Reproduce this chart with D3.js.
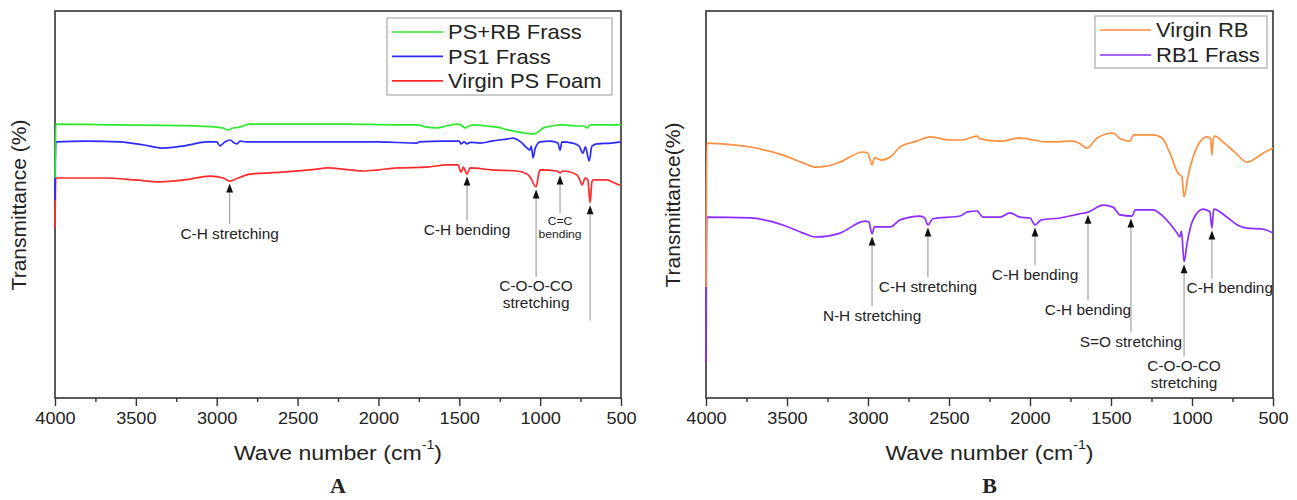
<!DOCTYPE html>
<html>
<head>
<meta charset="utf-8">
<script src="https://cdn.jsdelivr.net/npm/d3@7"></script>
<style>
body{margin:0;background:#fff}
svg{display:block}
text{font-family:"Liberation Sans",Arial,sans-serif;fill:#222}
</style>
</head>
<body>
<div id="chart"></div>
<script>
// x axis (wave number, cm-1)
const xDomain = [4000, 500];
const majorTicks = [4000, 3500, 3000, 2500, 2000, 1500, 1000, 500];
const minorTicks = [3750, 3250, 2750, 2250, 1750, 1250, 750];

// panel A spectra  [wave number, transmittance]
const psrbFrass = [[4000,56.7],[3995,70.6],[3600,70.4],[3200,70.2],[3000,69.8],[2960,69.6],[2930,69.1],[2900,69.6],
  [2860,69.8],[2800,70.6],[2500,70.6],[2200,70.6],[1900,70.4],[1760,70.4],[1700,69.8],[1640,69.6],[1580,70.1],
  [1514,70.6],[1490,70.4],[1464,69.6],[1440,70.1],[1400,70.4],[1330,70.1],[1266,69.8],[1200,69.1],[1143,68.6],
  [1080,68.2],[1044,68.0],[1010,68.6],[982,69.6],[930,70.1],[858,70.4],[770,70.1],[730,70.1],[710,69.6],[690,70.4],
  [600,70.4],[500,70.4]];
const ps1Frass = [[4000,51.0],[3995,66.0],[3800,66.2],[3600,66.0],[3450,65.2],[3332,64.4],[3200,65.0],[3060,66.0],
  [3000,66.0],[2980,65.0],[2950,66.0],[2918,66.5],[2890,65.7],[2875,65.5],[2855,66.2],[2820,66.0],[2500,66.0],
  [2000,66.0],[1760,65.7],[1750,66.0],[1600,66.2],[1500,66.2],[1490,65.5],[1470,66.0],[1452,65.5],[1430,65.9],
  [1370,65.7],[1300,66.2],[1200,66.8],[1168,67.0],[1120,66.0],[1080,64.4],[1063,63.9],[1055,64.9],[1044,61.9],
  [1030,64.4],[1000,66.0],[940,66.2],[890,65.7],[877,63.9],[865,66.0],[800,65.7],[760,65.0],[735,63.1],[720,64.7],
  [697,61.1],[680,64.9],[648,65.5],[560,65.7],[500,66.0]];
const virginPS = [[4000,44.1],[3995,56.7],[3700,56.7],[3500,56.2],[3350,55.7],[3200,56.2],[3040,57.2],[2960,56.7],
  [2918,55.9],[2880,56.5],[2794,57.7],[2600,58.2],[2380,59.0],[2318,59.3],[2176,58.8],[2095,58.5],[2000,58.8],
  [1885,59.3],[1700,59.5],[1576,60.1],[1508,60.1],[1489,58.2],[1475,59.5],[1452,57.7],[1434,59.3],[1300,58.8],
  [1143,58.5],[1080,57.7],[1063,57.0],[1025,54.4],[1010,57.5],[1000,58.8],[895,58.5],[877,58.0],[860,58.5],
  [772,57.5],[755,56.2],[740,54.9],[722,56.7],[705,56.2],[691,50.3],[680,55.7],[673,56.2],[586,56.2],[540,55.4],
  [506,54.9],[500,54.9]];

// panel B spectra
const virginRB = [[4000,28.6],[3995,65.7],[3900,65.5],[3728,64.7],[3525,62.6],[3400,60.6],[3327,59.5],[3250,59.8],
  [3173,60.8],[3031,63.4],[3000,63.1],[2975,60.1],[2960,61.9],[2914,61.3],[2864,62.1],[2802,64.7],[2700,66.2],
  [2617,67.3],[2494,66.5],[2420,66.5],[2327,67.5],[2309,66.8],[2185,66.2],[2062,67.0],[1895,66.0],[1735,66.2],
  [1690,65.5],[1648,64.4],[1586,67.0],[1488,68.3],[1444,66.8],[1383,66.2],[1360,67.8],[1241,67.8],[1185,67.0],
  [1136,63.1],[1086,57.9],[1062,57.0],[1049,51.8],[1025,57.0],[969,64.7],[908,67.3],[885,66.8],[877,62.6],
  [868,67.0],[858,67.5],[809,66.0],[740,63.5],[660,60.8],[600,62.0],[562,63.1],[500,64.4]];
const rb1Frass = [[4000,9.3],[3995,46.6],[3728,46.4],[3525,44.6],[3400,42.5],[3327,41.5],[3173,42.5],[3019,45.6],
  [2995,45.4],[2975,42.3],[2960,44.1],[2864,44.1],[2802,45.9],[2679,46.9],[2650,46.4],[2630,44.6],[2600,46.2],
  [2432,46.9],[2389,47.9],[2327,48.2],[2290,46.6],[2185,46.6],[2123,47.7],[2062,46.6],[2000,46.4],[1969,44.6],
  [1930,45.9],[1815,46.4],[1700,47.4],[1642,47.9],[1549,49.7],[1488,49.2],[1444,47.2],[1370,46.9],[1350,48.5],
  [1241,48.5],[1180,46.9],[1130,44.6],[1092,42.5],[1075,41.5],[1065,43.0],[1049,35.1],[1030,40.0],[994,45.9],
  [932,48.7],[890,48.0],[877,43.8],[866,48.7],[784,46.6],[720,44.6],[660,43.8],[560,43.5],[500,42.5]];

const namesA = ["PS+RB Frass", "PS1 Frass", "Virgin PS Foam"];
const namesB = ["Virgin RB", "RB1 Frass"];

// peak labels: wave number, text lines, label level (transmittance)
const peaksA = [
  {wave: 2920, text: ["C-H stretching"], level: 42.3},
  {wave: 1452, text: ["C-H bending"], level: 43.2},
  {wave: 1025, text: ["C-O-O-CO", "stretching"], level: 28.7},
  {wave: 877, text: ["C=C", "bending"], level: 45.6, small: true},
  {wave: 691, text: [], level: 20.0}
];
const peaksB = [
  {wave: 2975, text: ["N-H stretching"], level: 21.1},
  {wave: 2630, text: ["C-H stretching"], level: 28.6},
  {wave: 1969, text: ["C-H bending"], level: 31.7},
  {wave: 1642, text: ["C-H bending"], level: 22.7},
  {wave: 1377, text: ["S=O stretching"], level: 14.4},
  {wave: 1049, text: ["C-O-O-CO", "stretching"], level: 8.2},
  {wave: 877, text: ["C-H bending"], level: 28.2}
];

const SX = 1.1; // the figure is slightly stretched sideways

const svg = d3.select("#chart").append("svg")
  .attr("width", 1297).attr("height", 500);

function txt(g, x, y, str, size, anchor) {
  return g.append("text")
    .attr("transform", `translate(${x},${y}) scale(${SX},1)`)
    .attr("text-anchor", anchor || "middle")
    .attr("dominant-baseline", "central")
    .style("font-size", size + "px")
    .text(str);
}

function valueAt(series, w) {
  let best = series[1];
  series.slice(1).forEach(p => { if (Math.abs(p[0] - w) < Math.abs(best[0] - w)) best = p; });
  return best[1];
}

function drawPanel(o) {
  const g = svg.append("g");
  const x = d3.scaleLinear().domain(xDomain).range([o.left, o.right]);
  const y = d3.scaleLinear().domain([0, 100]).range([398, 10]);

  // frame
  g.append("rect")
    .attr("x", o.left).attr("y", o.top)
    .attr("width", o.right - o.left).attr("height", 398 - o.top)
    .attr("fill", "none").attr("stroke", "#333").attr("stroke-width", 1.6);

  // ticks
  const major = d3.axisBottom(x).tickValues(majorTicks).tickFormat(d3.format("d"))
    .tickSize(8).tickPadding(6).tickSizeOuter(0);
  const minor = d3.axisBottom(x).tickValues(minorTicks).tickSize(4).tickFormat("").tickSizeOuter(0);
  const ga = g.append("g").attr("transform", "translate(0,398)").call(major);
  g.append("g").attr("transform", "translate(0,398)").call(minor)
    .call(s => s.select(".domain").remove())
    .selectAll("line").attr("stroke", "#333").attr("stroke-width", 1.4);
  ga.select(".domain").remove();
  ga.selectAll("line").attr("stroke", "#333").attr("stroke-width", 1.4);
  ga.selectAll("text")
    .attr("transform", `scale(${SX},1)`)
    .style("font-size", "16.5px")
    .style("font-family", '"Liberation Sans",Arial,sans-serif')
    .attr("fill", "#222");

  // axis titles
  const cx = (o.left + o.right) / 2;
  const xt = g.append("text")
    .attr("transform", `translate(${cx},452) scale(${SX},1)`)
    .attr("text-anchor", "middle").attr("dominant-baseline", "central")
    .style("font-size", "21px");
  xt.append("tspan").text("Wave number (cm");
  xt.append("tspan").text("-1").style("font-size", "13px").attr("dy", -8);
  xt.append("tspan").text(")").attr("dy", 8);

  g.append("text")
    .attr("transform", `translate(${o.ytitleX},205) rotate(-90)`)
    .attr("text-anchor", "middle").attr("dominant-baseline", "central")
    .style("font-size", "21px").text(o.ytitle);

  g.append("text")
    .attr("transform", `translate(${cx},486) scale(${SX},1)`)
    .attr("text-anchor", "middle").attr("dominant-baseline", "central")
    .style("font-family", '"Liberation Serif","Times New Roman",serif')
    .style("font-weight", "bold").style("font-size", "20px")
    .text(o.tag);

  // spectra
  const line = d3.line().x(d => x(d[0])).y(d => y(d[1])).curve(d3.curveMonotoneX);
  o.series.forEach(s => {
    g.append("path").datum(s.data)
      .attr("d", line)
      .attr("fill", "none")
      .attr("stroke", s.color)
      .attr("stroke-width", 1.7)
      .attr("stroke-linejoin", "round");
  });

  // peak markers
  o.peaks.forEach(p => {
    const px = x(p.wave);
    const tip = y(valueAt(o.marked, p.wave)) + 2.5;
    const size = p.small ? 11 : 14;
    const ly = y(p.level);
    const end = p.text.length ? ly - size * 0.7 : ly;
    g.append("line")
      .attr("x1", px).attr("x2", px)
      .attr("y1", tip + 8).attr("y2", end)
      .attr("stroke", "#999").attr("stroke-width", 1.1);
    g.append("path")
      .attr("d", `M${px},${tip}L${px - 3.4},${tip + 9}L${px + 3.4},${tip + 9}Z`)
      .attr("fill", "#111");
    p.text.forEach((t, k) => {
      const el = txt(g, px, ly + k * size * 1.2, t, size);
      const w = el.node().getComputedTextLength() * SX;
      // labels near the right edge sit flush against the frame
      if (px + w / 2 > o.right - 20) {
        el.attr("transform", `translate(${o.right - w / 2},${ly + k * size * 1.2}) scale(${SX},1)`);
      }
    });
  });

  // legend
  const L = o.legend;
  g.append("rect")
    .attr("x", L.x).attr("y", L.y).attr("width", L.w).attr("height", L.h)
    .attr("fill", "#fff").attr("stroke", "#999").attr("stroke-width", 1);
  o.legendOrder.forEach((si, k) => {
    const s = o.series[si];
    const ry = L.row0 + k * L.step;
    g.append("line")
      .attr("x1", L.x + 5).attr("x2", L.x + 56)
      .attr("y1", ry).attr("y2", ry)
      .attr("stroke", s.color).attr("stroke-width", 1.7);
    txt(g, L.x + 61, ry, s.name, 20, "start");
  });
}

drawPanel({
  left: 55, right: 621, top: 11, tag: "A",
  ytitle: "Transmittance (%)", ytitleX: 18,
  series: [
    {name: namesA[2], data: virginPS, color: "#ff2a2a"},
    {name: namesA[1], data: ps1Frass, color: "#2b2bff"},
    {name: namesA[0], data: psrbFrass, color: "#2ee82e"}
  ],
  legendOrder: [2, 1, 0],
  marked: virginPS,
  peaks: peaksA,
  legend: {x: 387, y: 18, w: 225, h: 77, row0: 32, step: 24.4}
});

drawPanel({
  left: 706, right: 1273, top: 11, tag: "B",
  ytitle: "Transmittance(%)", ytitleX: 672,
  series: [
    {name: namesB[1], data: rb1Frass, color: "#8c2cff"},
    {name: namesB[0], data: virginRB, color: "#ff8f3f"}
  ],
  legendOrder: [1, 0],
  marked: rb1Frass,
  peaks: peaksB,
  legend: {x: 1095, y: 16, w: 172, h: 52, row0: 30, step: 25}
});
</script>
</body>
</html>
